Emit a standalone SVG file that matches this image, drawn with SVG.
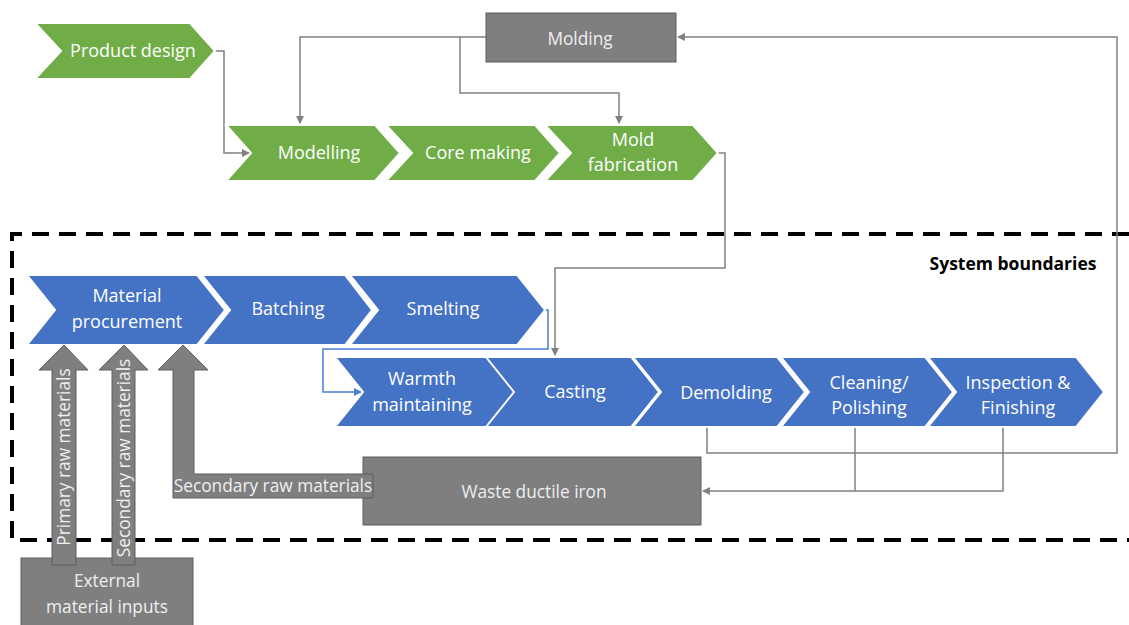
<svg xmlns="http://www.w3.org/2000/svg" width="1129" height="625" viewBox="0 0 1129 625">
<defs>
<style>
.g{fill:#70AD47;stroke:#ffffff;stroke-width:2}
.b{fill:#4472C4;stroke:#ffffff;stroke-width:2}
.k{fill:#7F7F7F;stroke:#5f5f5f;stroke-width:1}
.t{font-family:"Open Sans","Liberation Sans",sans-serif;font-size:18px;fill:#ffffff;text-anchor:middle}
.tk{font-family:"Open Sans","Liberation Sans",sans-serif;font-size:17.3px;fill:#efefef;text-anchor:middle}
.c{fill:none;stroke:#808080;stroke-width:1.5}
.cb{fill:none;stroke:#4a7fd4;stroke-width:1.5}
</style>
<marker id="ag" markerWidth="8" markerHeight="8" refX="7" refY="4" orient="auto" markerUnits="userSpaceOnUse"><path d="M0,0 L8,4 L0,8 Z" fill="#808080"/></marker>
<marker id="ab" markerWidth="8" markerHeight="8" refX="7" refY="4" orient="auto" markerUnits="userSpaceOnUse"><path d="M0,0 L8,4 L0,8 Z" fill="#4a7fd4"/></marker>
</defs>
<rect width="1129" height="625" fill="#ffffff"/>

<!-- system boundary -->
<path d="M1129,234 H12 V540 H1129" fill="none" stroke="#000" stroke-width="4" stroke-dasharray="17,10"/>
<text x="1013" y="270" font-family="'Open Sans','Liberation Sans',sans-serif" font-size="17.5" font-weight="bold" fill="#000" text-anchor="middle">System boundaries</text>

<g id="connectors">
<path class="c" d="M215,51 H224 V153 H249" marker-end="url(#ag)"/>
<path class="c" d="M486,37 H300 V123" marker-end="url(#ag)"/>
<path class="c" d="M460,37 V93 H619 V123" marker-end="url(#ag)"/>
<path class="c" d="M718,153 H725 V268 H555 V355" marker-end="url(#ag)"/>
<path class="c" d="M707,428 V453 H1117 V37 H678" marker-end="url(#ag)"/>
<path class="c" d="M855,428 V491"/>
<path class="c" d="M1003,428 V491 H703" marker-end="url(#ag)"/>
<path class="cb" d="M545,310 H548 V349 H323 V392 H361" marker-end="url(#ab)"/>
</g>

<g id="product-design"><path class="g" d="M35,23 H190 L215,51 L190,79 H35 L61,51 Z"/><text class="t" x="133" y="57">Product design</text></g>
<g id="modelling"><path class="g" d="M226,125 H375 L400,153 L375,181 H226 L251,153 Z"/><text class="t" x="319" y="159">Modelling</text></g>
<g id="core-making"><path class="g" d="M386,125 H535 L560,153 L535,181 H386 L412,153 Z"/><text class="t" x="478" y="159">Core making</text></g>
<g id="mold-fabrication"><path class="g" d="M545,125 H693 L718,153 L693,181 H545 L571,153 Z"/><text class="t" x="633" y="146">Mold</text><text class="t" x="633" y="171">fabrication</text></g>
<g id="molding"><rect class="k" x="486" y="13" width="190" height="49"/><text class="tk" x="580" y="45">Molding</text></g>

<g id="material-procurement"><path class="b" d="M27,275 H197 L225,310 L197,345 H27 L55,310 Z"/><text class="t" x="127" y="302">Material</text><text class="t" x="127" y="328">procurement</text></g>
<g id="batching"><path class="b" d="M202,275 H345 L372,310 L345,345 H202 L230,310 Z"/><text class="t" x="288" y="315">Batching</text></g>
<g id="smelting"><path class="b" d="M350,275 H517 L545,310 L517,345 H350 L378,310 Z"/><text class="t" x="443" y="315">Smelting</text></g>

<g id="warmth-maintaining"><path class="b" d="M335,357 H487 L515,392 L487,427 H335 L363,392 Z"/><text class="t" x="422" y="385">Warmth</text><text class="t" x="422" y="411">maintaining</text></g>
<g id="casting"><path class="b" d="M486,357 H631 L659,392 L631,427 H486 L514,392 Z"/><text class="t" x="575" y="398">Casting</text></g>
<g id="demolding"><path class="b" d="M633,357 H777 L805,392 L777,427 H633 L661,392 Z"/><text class="t" x="726" y="399">Demolding</text></g>
<g id="cleaning-polishing"><path class="b" d="M781,357 H925 L953,392 L925,427 H781 L809,392 Z"/><text class="t" x="869" y="389">Cleaning/</text><text class="t" x="869" y="414">Polishing</text></g>
<g id="inspection-finishing"><path class="b" d="M928,357 H1076 L1104,392 L1076,427 H928 L956,392 Z"/><text class="t" x="1018" y="389">Inspection &amp;</text><text class="t" x="1018" y="414">Finishing</text></g>

<g id="waste-ductile-iron"><rect class="k" x="363" y="457" width="338" height="68"/><text class="tk" x="534" y="498">Waste ductile iron</text></g>

<g id="external-material-inputs"><rect class="k" x="21" y="558" width="172" height="70"/><text class="tk" x="107" y="587">External</text><text class="tk" x="107" y="613">material inputs</text></g>

<g id="primary-arrow"><path class="k" d="M64,345 L88,370 H76 V565 H52 V370 H39 Z"/><text class="tk" transform="translate(70,457) rotate(-90)">Primary raw materials</text></g>
<g id="secondary-arrow"><path class="k" d="M124,345 L148,370 H135 V565 H112 V370 H99 Z"/><text class="tk" transform="translate(130,458) rotate(-90)">Secondary raw materials</text></g>
<g id="secondary-recycled-arrow"><path class="k" d="M183,345 L208,370 H194 V474 H373 V498 H173 V370 H158 Z"/><text class="tk" x="273" y="492">Secondary raw materials</text></g>
</svg>
